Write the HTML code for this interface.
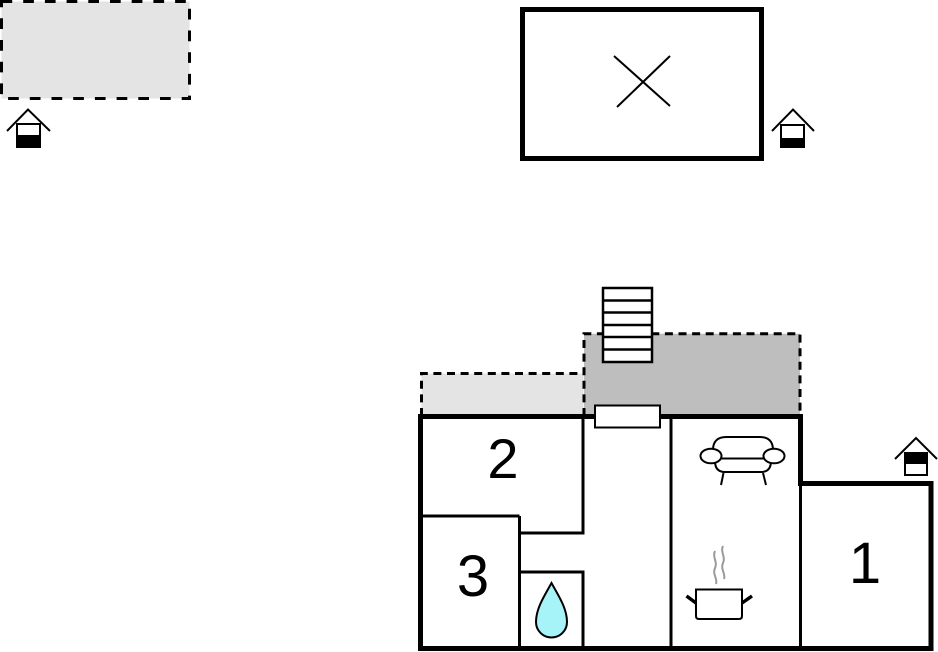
<!DOCTYPE html>
<html>
<head>
<meta charset="utf-8">
<style>
html,body{margin:0;padding:0;background:#fff;}
body{width:938px;height:652px;overflow:hidden;}
svg{display:block;}
text{font-family:"Liberation Sans",Arial,sans-serif;}
</style>
</head>
<body>
<svg width="938" height="652" viewBox="0 0 938 652" xmlns="http://www.w3.org/2000/svg">
  <!-- top-left dashed light area -->
  <rect x="1.5" y="1.5" width="188" height="97" fill="#e4e4e4" stroke="#000" stroke-width="3" stroke-dasharray="10.7 11"/>

  <!-- house icon 1 -->
  <g stroke="#000" stroke-width="2" fill="none">
    <polyline points="7,131 28,109.5 50,131"/>
    <rect x="17" y="124" width="23" height="23" fill="#fff"/>
  </g>
  <rect x="16" y="135" width="25" height="12.5" fill="#000"/>

  <!-- X rect -->
  <rect x="522.5" y="9.5" width="239" height="149" fill="#fff" stroke="#000" stroke-width="5"/>
  <line x1="614" y1="56" x2="670" y2="106" stroke="#000" stroke-width="2"/>
  <line x1="670" y1="56" x2="617" y2="107" stroke="#000" stroke-width="2"/>

  <!-- house icon 2 -->
  <g stroke="#000" stroke-width="2" fill="none">
    <polyline points="772,131 793,109.5 814,131"/>
    <rect x="781" y="125" width="23" height="22" fill="#fff"/>
  </g>
  <rect x="780" y="138" width="25" height="9.5" fill="#000"/>

  <!-- house icon 3 -->
  <g stroke="#000" stroke-width="2" fill="none">
    <polyline points="895,459 916,438 937,459"/>
    <rect x="905" y="453" width="22" height="22" fill="#fff"/>
  </g>
  <rect x="904" y="452" width="24" height="12" fill="#000"/>

  <!-- light gray terrace -->
  <rect x="421.5" y="373.5" width="162" height="43" fill="#e4e4e4"/>
  <path d="M421.5,416 V373.5 H584" fill="none" stroke="#000" stroke-width="3" stroke-dasharray="8 5.6"/>

  <!-- dark gray terrace -->
  <rect x="584" y="333.7" width="216" height="83" fill="#bebebe"/>
  <path d="M584,416 V333.7 H800 V416" fill="none" stroke="#000" stroke-width="3" stroke-dasharray="8 5.6"/>

  <!-- stairs -->
  <g stroke="#000" stroke-width="2.5" fill="#fff">
    <rect x="603" y="288" width="49" height="74"/>
    <line x1="603" y1="300.5" x2="652" y2="300.5"/>
    <line x1="603" y1="312.5" x2="652" y2="312.5"/>
    <line x1="603" y1="325" x2="652" y2="325"/>
    <line x1="603" y1="337" x2="652" y2="337"/>
    <line x1="603" y1="349.5" x2="652" y2="349.5"/>
  </g>

  <!-- building interior white -->
  <path d="M420.5,416.5 H800.5 V483.5 H931 V648.5 H420.5 Z" fill="#fff"/>

  <!-- interior walls -->
  <g stroke="#000" stroke-width="3" fill="none">
    <line x1="671" y1="416" x2="671" y2="648"/>
    <line x1="800.5" y1="483" x2="800.5" y2="648"/>
    <polyline points="583,416 583,533 519.5,533"/>
    <line x1="420" y1="516" x2="519.5" y2="516"/>
    <line x1="519.5" y1="516" x2="519.5" y2="648"/>
    <polyline points="519.5,572 583,572 583,648"/>
  </g>

  <!-- outer walls -->
  <path d="M420.5,416.5 H800.5 V483.5 H931 V648.5 H420.5 Z" fill="none" stroke="#000" stroke-width="5"/>

  <!-- door/window on top wall -->
  <rect x="595" y="405.5" width="65" height="22" fill="#fff" stroke="#000" stroke-width="2"/>

  <!-- labels -->
  <text x="503" y="478" font-size="56" text-anchor="middle" fill="#000">2</text>
  <text x="473" y="596" font-size="58" text-anchor="middle" fill="#000">3</text>
  <text x="865" y="583" font-size="58" text-anchor="middle" fill="#000">1</text>

  <!-- water drop -->
  <path d="M551.5,583 C545,595 536,608 536,622 A15.5,15.5 0 0 0 567,622 C567,608 558,595 551.5,583 Z" fill="#a6f3f8" stroke="#000" stroke-width="2"/>

  <!-- sofa -->
  <g stroke="#000" stroke-width="2" fill="#fff">
    <path d="M713,450 C713,441 718,437 726,437 H760 C768,437 773,441 773,450"/>
    <path d="M715,461 C715,468 718,472 725,472 H761 C768,472 771,468 771,461"/>
    <line x1="721" y1="458.5" x2="764" y2="458.5"/>
    <ellipse cx="711" cy="456" rx="10.5" ry="7.3"/>
    <ellipse cx="774" cy="456" rx="10.5" ry="7.3"/>
    <line x1="723.5" y1="473" x2="721" y2="485"/>
    <line x1="763" y1="473" x2="766" y2="485"/>
  </g>

  <!-- pot -->
  <path d="M696,589.5 H742 V616 Q742,619 739,619 H699 Q696,619 696,616 Z" fill="#fff" stroke="#000" stroke-width="2"/>
  <line x1="686.5" y1="596" x2="696" y2="603" stroke="#000" stroke-width="3.5"/>
  <line x1="742" y1="603" x2="752" y2="596" stroke="#000" stroke-width="3.5"/>
  <g stroke="#9a9a9a" stroke-width="2" fill="none">
    <path d="M715,551 c-3,6 3,11 0,17 c-3,6 3,11 1,16"/>
    <path d="M723,546 c-3,6 3,11 0,17 c-3,6 3,11 1,16"/>
  </g>
</svg>
</body>
</html>
